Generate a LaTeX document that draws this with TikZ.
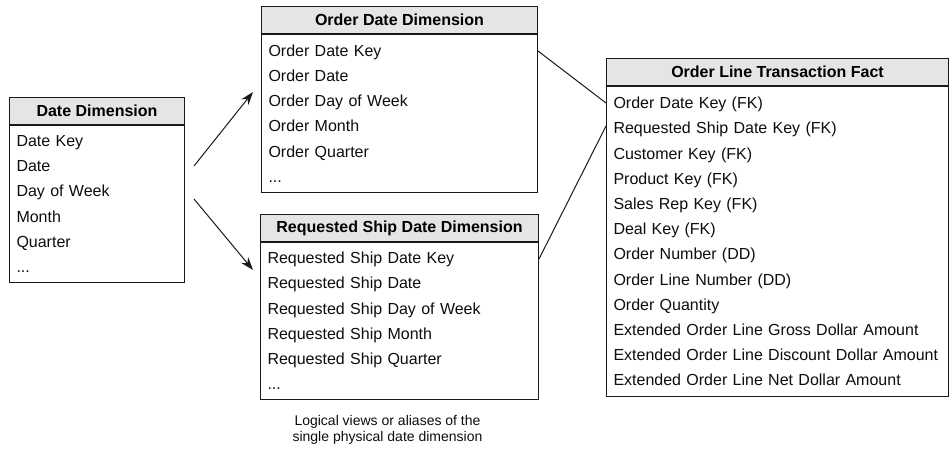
\documentclass[tikz,border=0pt]{standalone}
\usepackage{fontspec}
\setmainfont{Liberation Sans}
\usetikzlibrary{positioning,arrows.meta}

\tikzset{
  head/.style={draw=black!90, line width=1pt, fill=black!10, minimum width=#1,
    minimum height=27pt, inner sep=0pt, font=\fontsize{16}{19}\selectfont\bfseries, text=black},
  body/.style={draw=black!90, line width=1pt, text width=#1, align=left,
    inner xsep=7pt, inner ysep=0pt, font=\fontsize{16}{25.2}\selectfont, text=black!95},
  link/.style={line width=1pt, draw=black!90},
  alias/.style={link, -{Stealth[length=13pt,width=9pt]}}
}

\begin{document}
\begin{tikzpicture}[x=1pt,y=-1pt]
  \useasboundingbox (0,0) rectangle (950,449);

  \node[head=175pt, anchor=north west] (dd-head) at (9,97) {Date Dimension};
  \node[body=161pt, minimum height=157pt, below=0pt of dd-head] (dd-body)
    {Date Key\\Date\\Day of Week\\Month\\Quarter\\...};

  \node[head=276pt, anchor=north west] (odd-head) at (261,6) {Order Date Dimension};
  \node[body=262pt, minimum height=158pt, below=0pt of odd-head] (odd-body)
    {Order Date Key\\Order Date\\Order Day of Week\\Order Month\\Order Quarter\\...};

  \node[head=278pt, anchor=north west] (rsd-head) at (260,214) {Requested Ship Date Dimension};
  \node[body=264pt, minimum height=157pt, below=0pt of rsd-head] (rsd-body)
    {Requested Ship Date Key\\Requested Ship Date\\Requested Ship Day of Week\\Requested Ship Month\\Requested Ship Quarter\\...};
  \node[below=15pt of rsd-body, xshift=-12pt, inner sep=0pt, align=center,
    font=\fontsize{14}{16.6}\selectfont, text=black!95] (caption)
    {Logical views or aliases of the\\single physical date dimension};

  \node[head=342pt, anchor=north west] (fact-head) at (606,58) {Order Line Transaction Fact};
  \node[body=328pt, minimum height=310pt, below=0pt of fact-head] (fact-body)
    {Order Date Key (FK)\\Requested Ship Date Key (FK)\\Customer Key (FK)\\Product Key (FK)\\
     Sales Rep Key (FK)\\Deal Key (FK)\\Order Number (DD)\\Order Line Number (DD)\\Order Quantity\\
     Extended Order Line Gross Dollar Amount\\Extended Order Line Discount Dollar Amount\\
     Extended Order Line Net Dollar Amount};

  \draw[alias] ([xshift=9pt,yshift=-41pt]dd-body.north east) -- ([xshift=-8pt,yshift=-58pt]odd-body.north west);
  \draw[alias] ([xshift=9pt,yshift=-74pt]dd-body.north east) -- ([xshift=-7pt,yshift=-28pt]rsd-body.north west);
  \draw[link] ([yshift=-17pt]odd-body.north east) -- ([yshift=-17pt]fact-body.north west);
  \draw[link] ([yshift=-17pt]rsd-body.north east) -- ([yshift=-40pt]fact-body.north west);
\end{tikzpicture}
\end{document}
